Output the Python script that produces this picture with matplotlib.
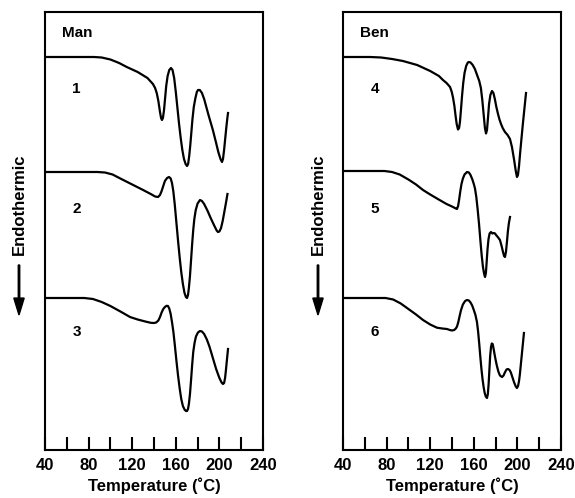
import matplotlib
matplotlib.use("Agg")
import numpy as np
import matplotlib.pyplot as plt

plt.rcParams['font.family'] = ['Liberation Sans', 'DejaVu Sans']
plt.rcParams['font.weight'] = 'bold'

# DSC traces, temperature (C) and signal (arbitrary units, offset per trace)
t1 = [40, 85, 92, 100, 108, 115, 125, 134, 139, 141, 142.5, 144, 145.5, 146.5, 147.3, 148.2,
      149.2, 150.2, 151.2, 152.5, 154, 155.6, 157, 158.5, 160, 161.5, 163, 164.5, 166, 167.5,
      169, 170.3, 171.3, 172.3, 173.3, 174.3, 175.3, 176.5, 178, 179.3, 180.4, 182, 184, 186,
      188, 190, 194, 197, 199, 201, 202.4, 203.3, 204.3, 205.3, 206.3, 207.2, 207.9]
s1 = [393, 393, 392.5, 390.5, 387, 383, 378, 372, 366, 362, 357, 349, 338, 332, 330, 332,
      340, 352, 364, 374, 380, 382, 380, 372, 358, 342, 326, 312, 300, 291,
      286, 284, 286, 294, 305, 318, 331, 343, 352, 358, 360, 360, 357, 351,
      343, 335, 320, 307, 298, 291, 288, 291, 300, 311, 322, 331, 337]

t2 = [40, 88, 95, 102, 110, 120, 130, 137, 141, 143.7, 145.5, 147, 148.5, 150, 152, 153.8,
      155.3, 156.5, 157.7, 159, 160.5, 162, 163.5, 165, 166.5, 168, 169.3, 170.3, 171.2, 172,
      173, 174, 175, 176, 177, 178.3, 180, 182.2, 184, 186, 189, 192, 195, 197.5, 198.7, 200,
      201.5, 203, 204.5, 206, 207.4]
s2 = [278, 278, 277.5, 275.5, 271, 265.5, 260, 256, 253.5, 253, 255, 259, 264, 269, 272, 273,
      271.5, 267, 259, 246, 228, 210, 193, 178, 166, 157, 153, 152, 155, 162,
      174, 190, 206, 220, 231, 240, 246.5, 250, 249, 246, 239.5, 232, 225, 219.5, 218, 218.5,
      222, 229, 238, 247, 256]

t3 = [40, 76, 84, 92, 100, 110, 118, 125, 132, 137, 140, 142, 144, 145.5, 147, 148.5, 150,
      151.5, 152.8, 154, 155.3, 156.5, 157.8, 159, 160.5, 162, 163.5, 165, 166.5, 168, 169.3,
      170.3, 171.2, 172, 173, 174, 175, 176, 177.2, 178.5, 180.3, 182.2, 184, 186, 188.5, 191,
      194, 197, 200, 202, 203.3, 204.3, 205.2, 206, 206.8, 207.9]
s3 = [152, 152, 151, 148, 144, 138, 133, 130.5, 128.5, 127.2, 127, 127.5, 129.5, 133, 137.5,
      141, 143, 144.2, 144, 141.5, 136, 128, 118, 106, 90, 75, 62, 51, 44, 40.5, 39,
      39, 41, 46, 56, 70, 85, 98, 107, 113.5, 117.5, 119, 118.5, 116, 110.5, 103,
      92, 81, 72, 67.5, 66, 67, 72, 80, 89, 101]

t4 = [40, 65, 75, 85, 95, 108, 120, 128, 131.7, 135, 138.2, 139.8, 141, 142.2, 143.3, 144.3,
      145.5, 146.5, 147.3, 148.2, 149.2, 150.3, 151.5, 153, 154.5, 155.6, 157, 159, 161, 163,
      165, 166.5, 167.8, 169, 170.2, 171.2, 172.1, 173, 174, 175.2, 176.7, 178, 179.3, 180.7,
      182.2, 183.7, 185, 186.5, 188.6, 191, 193.2, 195, 197, 198.5, 199.6, 200.5, 201.5,
      202.5, 203.7, 205, 206.5, 207.9]
s4 = [393, 393, 392.5, 391, 389, 385, 379, 374, 370, 367, 363, 358, 352, 344, 334, 326,
      320.5, 322, 328, 340, 354, 367, 377, 384, 387.5, 388, 387.5, 385, 381, 375,
      369, 362, 350, 336, 322, 316.5, 320, 332, 346, 355, 359, 357, 351, 343,
      336, 330, 326, 322, 318, 315, 311, 303, 290, 279, 273, 275, 284,
      297, 311, 326, 342, 357]

t5 = [40, 78, 85, 92, 100, 107, 113.4, 120, 127, 135, 140, 143.5, 144.6, 145.6, 146.5, 147.5,
      148.7, 150, 151.5, 153.8, 155.5, 157, 158.7, 160, 161.1, 162.3, 163.5, 164.8, 166,
      167.2, 168.4, 169.5, 170.3, 171.1, 171.8, 172.6, 173.5, 174.5, 175.8, 177, 178.3, 179.5,
      180.4, 182, 184, 185.5, 186.8, 187.8, 188.6, 189.5, 190.4, 191.3, 192.2, 193.2]
s5 = [279, 279, 278, 275.5, 270.5, 265.5, 260, 255.5, 251, 246, 243.5, 241.5, 241, 244, 250,
      258, 266, 271.5, 275.5, 278, 277.5, 275, 270.5, 266, 261.5, 253, 241, 226, 210,
      195, 183, 176, 173, 177, 188, 201, 211, 216.5, 218, 216.5, 217, 216.5,
      215, 213, 210, 204, 198, 194, 193, 198, 208, 219, 227, 233]

t6 = [40, 79, 86, 93, 100, 107, 113.4, 120, 126.2, 131, 135.4, 138, 140, 142, 143.5, 144.6,
      145.8, 147, 148.3, 150, 152, 153.8, 155.5, 157, 158.5, 160, 161.5, 162.9, 164, 165,
      166, 167, 168, 169, 170, 171, 172.1, 172.9, 173.6, 174.3, 175, 175.8, 176.5, 177.3,
      178.2, 179.5, 181, 182.5, 184, 185.9, 187.3, 188.5, 190, 191.4, 192.8, 194, 195.5, 197,
      198.5, 199.6, 200.6, 201.5, 202.3, 203.2, 204.2, 205.1, 206]
s6 = [152, 152, 150.5, 146.5, 141, 135.5, 130, 125.5, 122.3, 121.5, 121, 120, 119.5, 120,
      121.5, 123.5, 128, 134, 140, 145.5, 149, 150, 149.5, 147.5, 144.5, 140, 135, 128,
      118, 106, 93, 81, 71, 63, 57, 53.5, 52, 56, 66, 80, 94, 103, 106.5, 106,
      101, 93, 85, 78.5, 74.5, 73, 74.5, 77.5, 80.5, 81, 80, 77.5, 72.5, 67.5,
      63.5, 62, 64, 69, 76, 86, 97, 107, 117]

panels = [("Man", [(t1, s1, "1"), (t2, s2, "2"), (t3, s3, "3")]),
          ("Ben", [(t4, s4, "4"), (t5, s5, "5"), (t6, s6, "6")])]
label_y = [361, 241, 118]

major_ticks = [40, 80, 120, 160, 200, 240]
minor_ticks = [60, 100, 140, 180, 220]

fig = plt.figure(figsize=(5.75, 4.98), dpi=100)
lefts = [45 / 575, 343 / 575]

for i, (name, traces) in enumerate(panels):
    ax = fig.add_axes([lefts[i], 48 / 498, 218 / 575, 438 / 498])
    for (t, s, num), ly in zip(traces, label_y):
        ax.plot(t, s, color='black', lw=1.6, solid_joinstyle='round')
        ax.text(69, ly, num, fontsize=11, fontweight='bold', ha='center', va='center')
    ax.text(56, 417, name, fontsize=11, fontweight='bold', ha='left', va='center')
    ax.set_xlim(40, 240)
    ax.set_ylim(0, 438)
    ax.set_yticks([])
    ax.set_xticks(major_ticks)
    ax.set_xticks(minor_ticks, minor=True)
    ax.tick_params(axis='x', which='both', direction='in', length=9.5, width=1.5, pad=6,
                   labelsize=12)
    for lab in ax.get_xticklabels():
        lab.set_fontweight('bold')
    for sp in ax.spines.values():
        sp.set_linewidth(1.5)
    ax.set_xlabel("Temperature (˚C)", fontsize=12, fontweight='bold', labelpad=3)

    # "Endothermic" label with downward arrow
    xf = (19 if i == 0 else 318) / 575
    fig.text(xf, 1 - 204 / 498, "Endothermic", rotation=90, fontsize=12, fontweight='bold',
             ha='center', va='center')
    fig.patches.append(matplotlib.patches.FancyArrow(
        xf, 1 - 265 / 498, 0, -50 / 498, width=0.0025, head_width=0.018,
        head_length=0.034, length_includes_head=True, color='black',
        transform=fig.transFigure, figure=fig))

fig.savefig("out.png", dpi=100)
